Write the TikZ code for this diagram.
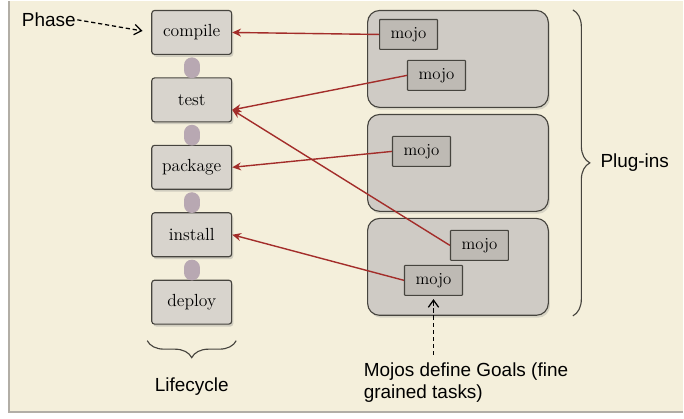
\documentclass[tikz,border=0pt]{standalone}
\usepackage{fontspec}
\newfontfamily\notefont{Liberation Sans}
\usepackage{xcolor}
\usepackage{tikz}
\usetikzlibrary{positioning, arrows.meta, decorations.pathreplacing, shadows}

\definecolor{paper}{RGB}{244,239,219}
\definecolor{frameline}{RGB}{178,174,166}
\definecolor{stagefill}{RGB}{216,212,205}
\definecolor{plugfill}{RGB}{207,203,197}
\definecolor{mojofill}{RGB}{190,186,180}
\definecolor{edgegray}{RGB}{70,68,62}
\definecolor{linkmauve}{RGB}{184,168,178}
\definecolor{goalred}{RGB}{163,45,42}

\begin{document}
\begin{tikzpicture}[
    x=1mm, y=1mm,
    node distance=5.6mm and 6mm,
    stage/.style={rectangle, draw=edgegray, thick, fill=stagefill, rounded corners=2pt, minimum width=20mm, minimum height=11mm, inner sep=1pt, font=\fontsize{12.5}{15}\selectfont, drop shadow={opacity=0.3, shadow xshift=0.4mm, shadow yshift=-0.6mm}},
    plugbox/.style={rectangle, draw=edgegray, thick, fill=plugfill, rounded corners=3mm, minimum width=45.25mm, minimum height=24.25mm, inner sep=0pt, drop shadow={opacity=0.25, shadow xshift=0.4mm, shadow yshift=-0.6mm}},
    mojo/.style={rectangle, draw=edgegray, thick, fill=mojofill, rounded corners=0.5pt, minimum width=14.5mm, minimum height=7.5mm, inner sep=1pt, font=\fontsize{12}{14}\selectfont},
    note/.style={font=\notefont\fontsize{13.5}{15.6}\selectfont, inner sep=1pt},
    link/.style={linkmauve, line width=4mm, line cap=round, shorten <=2.6mm, shorten >=1.8mm},
    arrow/.style={-{Stealth[length=2.2mm, width=2mm]}, goalred, line width=0.35mm},
    dashedarrow/.style={-{Straight Barb[length=1.8mm, width=2.6mm]}, dash pattern=on 3pt off 2pt, line width=0.9pt},
    brace/.style={decorate, decoration={brace, amplitude=4.25mm}, thick, edgegray},
]
    % --- paper ---
    \fill[white] (0,0) rectangle (171,-104.5);
    \fill[paper] (2.5,0) rectangle (171,-102.9);
    \draw[frameline, line width=0.5mm] (2.3,0) -- (2.3,-103) -- (171,-103);
    \useasboundingbox (0,0) rectangle (171,-104.5);

    % --- lifecycle ---
    \node[stage] (compile) at (48,-7.875) {compile};
    \node[stage, below=of compile] (test) {test};
    \node[stage, below=of test] (package) {package};
    \node[stage, below=of package] (install) {install};
    \node[stage, below=of install] (deploy) {deploy};

    \draw[link] (compile.south) -- (test.north);
    \draw[link] (test.south) -- (package.north);
    \draw[link] (package.south) -- (install.north);
    \draw[link] (install.south) -- (deploy.north);

    % --- plug-ins ---
    \node[plugbox, below right=0mm and 33.75mm of compile.north east] (plug1) {};
    \node[plugbox, below=1.5mm of plug1] (plug2) {};
    \node[plugbox, below=1.5mm of plug2] (plug3) {};

    \node[mojo, below right=2.25mm and 3mm of plug1.north west] (m1) {mojo};
    \node[mojo, below right=12.5mm and 10mm of plug1.north west] (m2) {mojo};
    \node[mojo, below right=5.5mm and 6.25mm of plug2.north west] (m3) {mojo};
    \node[mojo, below right=3mm and 20.75mm of plug3.north west] (m4) {mojo};
    \node[mojo, below right=11.75mm and 9.25mm of plug3.north west] (m5) {mojo};

    % --- notes ---
    \node[note, above left=1mm and 18.5mm of compile.west] (phase) {Phase};
    \node[note, below=12.9mm of deploy] (lifecycle) {Lifecycle};
    \node[note, right=12.5mm of plug2] (plugins) {Plug-ins};
    \node[note, align=left, below=11.25mm of plug3, xshift=2mm] (goals) {Mojos define Goals (fine\\grained tasks)};

    \draw[brace] ([shift={(1mm,-4mm)}]deploy.south east) -- ([shift={(-1mm,-4mm)}]deploy.south west);
    \draw[brace] ([xshift=6mm]plug1.north east) -- ([xshift=6mm]plug3.south east);

    % --- arrows ---
    \draw[arrow] (m1.west) -- (compile.east);
    \draw[arrow] (m2.west) -- ([yshift=-2.5mm]test.east);
    \draw[arrow] (m3.west) -- (package.east);
    \draw[arrow] (m4.west) -- ([yshift=-2.5mm]test.east);
    \draw[arrow] (m5.west) -- (install.east);

    \draw[dashedarrow, shorten >=2.2mm] (phase.east) -- (compile.west);
    \draw[dashedarrow, shorten >=0.8mm] ([yshift=1.5mm]m5.south |- goals.north) -- (m5.south);

\end{tikzpicture}
\end{document}
